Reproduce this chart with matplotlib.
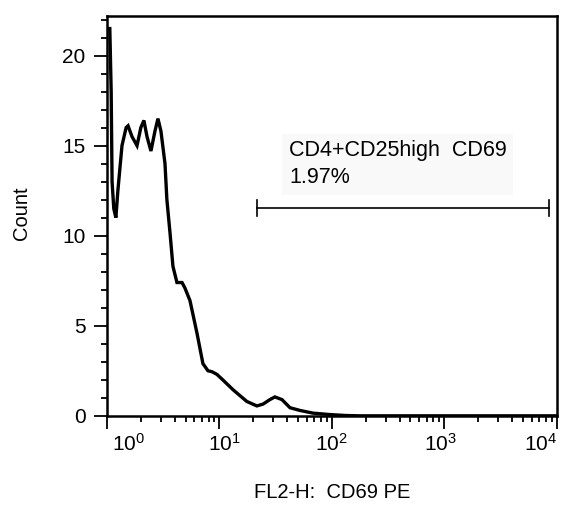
import matplotlib
matplotlib.use("Agg")
import matplotlib.pyplot as plt
import matplotlib.transforms as mtransforms
from matplotlib.ticker import FixedLocator, LogLocator, NullFormatter, MultipleLocator

plt.rcParams['font.family'] = ['Liberation Sans', 'DejaVu Sans']
plt.rcParams['mathtext.fontset'] = 'custom'
plt.rcParams['mathtext.rm'] = 'Liberation Sans'
plt.rcParams['mathtext.it'] = 'Liberation Sans'

# ---- histogram trace (FL2-H channel value, count) ----
fl2 = [1.00, 1.06, 1.09, 1.11, 1.15, 1.20, 1.25, 1.36, 1.48, 1.54, 1.67, 1.85,
       2.00, 2.13, 2.27, 2.46, 2.67, 2.84, 3.02, 3.28, 3.41, 3.63, 3.86, 4.19,
       4.65, 4.93, 5.47, 6.31, 7.13, 7.91, 8.57, 9.51, 10.7, 13.2, 17.5, 21.5,
       24.4, 28.1, 31.1, 36.0, 42.4, 52.0, 67.8, 95.9, 131, 177, 10000]
count = [21.5, 21.5, 18.0, 13.0, 11.5, 11.0, 12.5, 15.0, 16.0, 16.1, 15.5, 15.0,
         16.0, 16.4, 15.5, 14.7, 15.8, 16.5, 15.8, 14.0, 12.0, 10.2, 8.3, 7.4,
         7.4, 7.1, 6.4, 4.6, 2.9, 2.5, 2.45, 2.3, 2.0, 1.45, 0.8, 0.55,
         0.65, 0.9, 1.05, 0.9, 0.45, 0.3, 0.15, 0.07, 0.02, 0.0, 0.0]

# gate marker
gate_start, gate_end, gate_y = 21.5, 8500, 11.55
gate_name = "CD4+CD25high  CD69"
gate_pct = "1.97%"

xticks = [1, 10, 100, 1000, 10000]
xtick_labels = [r"$10^{0}$", r"$10^{1}$", r"$10^{2}$", r"$10^{3}$", r"$10^{4}$"]
xlabel_shift = [22, 5, 0, -4, -16]   # px, labels are not centred on ticks
yticks = [0, 5, 10, 15, 20]

fig = plt.figure(figsize=(5.63, 5.14), dpi=100)
ax = fig.add_axes([0.190, 0.191, 0.799, 0.778])

ax.plot(fl2, count, color='black', lw=2.4, solid_joinstyle='miter')

# gate bar with end caps
ax.plot([gate_start, gate_end], [gate_y, gate_y], color='black', lw=1.2)
ax.plot([gate_start, gate_start], [gate_y - 0.45, gate_y + 0.45], color='black', lw=1.2)
ax.plot([gate_end, gate_end], [gate_y - 0.45, gate_y + 0.45], color='black', lw=1.2)
ax.text(41.5, 13.97, gate_name + "\n" + gate_pct, fontsize=15.5, ha='left', va='center',
        linespacing=1.4,
        bbox=dict(boxstyle='square,pad=0.3', facecolor='#f9f9f9', edgecolor='none'))

ax.set_xscale('log')
ax.set_xlim(1, 10000)
ax.set_ylim(0, 22.2)

ax.xaxis.set_major_locator(FixedLocator(xticks))
ax.set_xticklabels(xtick_labels)
ax.xaxis.set_minor_locator(LogLocator(base=10, subs=range(2, 10)))
ax.xaxis.set_minor_formatter(NullFormatter())
ax.set_yticks(yticks)
ax.yaxis.set_minor_locator(MultipleLocator(1))

ax.tick_params(axis='both', which='major', direction='out', length=9.5, width=1.3,
               labelsize=15, top=False, right=False)
ax.tick_params(axis='y', which='major', pad=6)
ax.tick_params(axis='x', which='major', pad=3)
ax.tick_params(axis='both', which='minor', direction='out', length=4, width=1.3,
               top=False, right=False)

for s in ax.spines.values():
    s.set_linewidth(1.8)

for lb, dx in zip(ax.get_xticklabels(), xlabel_shift):
    lb.set_transform(lb.get_transform() +
                     mtransforms.ScaledTranslation(dx / 100, 0, fig.dpi_scale_trans))

fig.text(332 / 563, 1 - 493 / 514, "FL2-H:  CD69 PE", fontsize=14.5,
         ha='center', va='center')
fig.text(22 / 563, 1 - 213 / 514, "Count", fontsize=14.5, rotation=90,
         ha='center', va='center')

fig.savefig("out.png", dpi=100)
